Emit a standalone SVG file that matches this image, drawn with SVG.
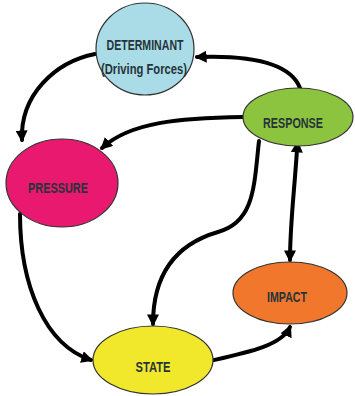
<svg xmlns="http://www.w3.org/2000/svg" width="355" height="396" viewBox="0 0 355 396">
<style>
.node{stroke:#333;stroke-width:1.2}
.lbl{font-family:"Liberation Sans",Arial,sans-serif;font-weight:bold;font-size:15px;fill:#26343a;text-anchor:middle}
.c{fill:none;stroke:#000;stroke-width:4;stroke-linecap:round}
</style>
<defs>
<marker id="ah" viewBox="0 0 10 10" refX="8" refY="5" markerWidth="3" markerHeight="3" orient="auto" markerUnits="strokeWidth">
<path d="M0,0 L10,5 L0,10 z" fill="#000"/>
</marker>
<marker id="ahs" viewBox="0 0 10 10" refX="2" refY="5" markerWidth="3" markerHeight="3" orient="auto-start-reverse" markerUnits="strokeWidth">
<path d="M0,0 L10,5 L0,10 z" fill="#000"/>
</marker>
</defs>
<rect width="355" height="396" fill="#fff"/>
<g id="connectors">
<path class="c" d="M95,54 C55,62 20,95 22,140" marker-end="url(#ah)"/>
<path class="c" d="M300,88 C290,62 250,55 197,57" marker-end="url(#ah)"/>
<path class="c" d="M243,117 C180,118 130,122 102,148" marker-end="url(#ah)"/>
<path class="c" d="M259,141 C254,185 255,222 218,232 C170,246 153,280 153,324" marker-end="url(#ah)"/>
<path class="c" d="M297,150 C294,195 290,225 290,260" marker-start="url(#ahs)" marker-end="url(#ah)"/>
<path class="c" d="M20,214 C20,285 45,345 91,360" marker-end="url(#ah)"/>
<path class="c" d="M214,360 C250,352 282,345 290,327" marker-end="url(#ah)"/>
</g>
<g id="determinant">
<ellipse class="node" cx="145" cy="49" rx="49" ry="46" fill="#a9dce6"/>
<text class="lbl" x="145" y="50" textLength="77" lengthAdjust="spacingAndGlyphs">DETERMINANT</text>
<text class="lbl" x="144" y="74" textLength="86" lengthAdjust="spacingAndGlyphs">(Driving Forces)</text>
</g>
<g id="response">
<ellipse class="node" cx="298" cy="117" rx="55" ry="29" fill="#8cc43f"/>
<text class="lbl" x="293" y="128" textLength="60" lengthAdjust="spacingAndGlyphs">RESPONSE</text>
</g>
<g id="pressure">
<ellipse class="node" cx="62" cy="183" rx="56" ry="44" fill="#e8196e"/>
<text class="lbl" x="58" y="193" textLength="60" lengthAdjust="spacingAndGlyphs">PRESSURE</text>
</g>
<g id="state">
<ellipse class="node" cx="153" cy="360" rx="60" ry="34" fill="#f1e82c"/>
<text class="lbl" x="153" y="372" textLength="35" lengthAdjust="spacingAndGlyphs">STATE</text>
</g>
<g id="impact">
<ellipse class="node" cx="290" cy="293" rx="57" ry="31" fill="#f0772c"/>
<text class="lbl" x="287" y="302" textLength="40" lengthAdjust="spacingAndGlyphs">IMPACT</text>
</g>
</svg>
